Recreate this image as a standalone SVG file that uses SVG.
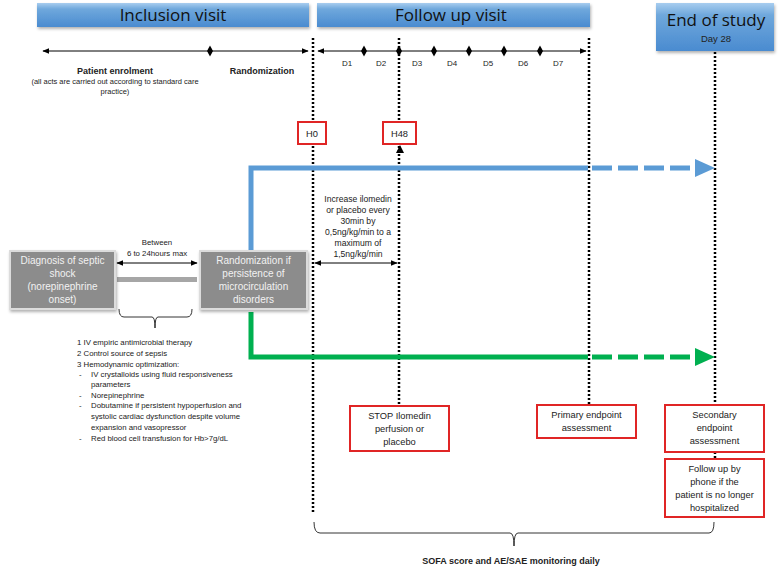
<svg xmlns="http://www.w3.org/2000/svg" width="778" height="567" viewBox="0 0 778 567">
<defs>
<linearGradient id="hg" x1="0" y1="0" x2="0" y2="1">
<stop offset="0" stop-color="#a8cdef"/>
<stop offset="0.25" stop-color="#6fa8dc"/>
<stop offset="1" stop-color="#4a8bd0"/>
</linearGradient>
<filter id="sh" x="-10%" y="-10%" width="120%" height="140%">
<feDropShadow dx="1" dy="2" stdDeviation="1.5" flood-color="#000" flood-opacity="0.3"/>
</filter>
<marker id="ah" viewBox="0 0 10 10" refX="9" refY="5" markerWidth="7" markerHeight="7" orient="auto-start-reverse" markerUnits="userSpaceOnUse">
<path d="M0,1 L10,5 L0,9 z" fill="#000"/>
</marker>
</defs>
<style>
text{font-family:"Liberation Sans",Arial,sans-serif;fill:#222}
.hd{font-family:"Open Sans","Liberation Sans",sans-serif;font-size:17px;fill:#111}
.sm{font-size:7.5px}
.b{font-weight:bold}
.tl{stroke:#000;stroke-width:1}
.dot{stroke:#000;stroke-width:2.5;stroke-dasharray:2 2;fill:none}
.rb{fill:#fff;stroke:#e02525;stroke-width:2}
.gb{fill:#8c8c8c;stroke:#dcdcdc;stroke-width:2}
.gt{fill:#f2f2f2;font-size:10px}
.bt{font-size:9.3px}
</style>
<rect width="778" height="567" fill="#fff"/>

<g id="hdr-inclusion">
<rect x="37" y="3" width="272" height="24" fill="url(#hg)" filter="url(#sh)"/>
<text x="173" y="21" text-anchor="middle" class="hd">Inclusion visit</text>
</g>
<g id="hdr-followup">
<rect x="317" y="3" width="273" height="24" fill="url(#hg)" filter="url(#sh)"/>
<text x="451" y="21" text-anchor="middle" class="hd">Follow up visit</text>
</g>
<g id="hdr-end">
<rect x="656" y="3" width="118" height="48" fill="url(#hg)" filter="url(#sh)"/>
<text x="716" y="26" text-anchor="middle" class="hd">End of study</text>
<text x="716" y="42" text-anchor="middle" font-size="9.5" font-family="Open Sans, Liberation Sans, sans-serif">Day 28</text>
</g>

<g id="connectors">
<line class="dot" x1="313" y1="38" x2="313" y2="512"/>
<line class="dot" x1="399" y1="38" x2="399" y2="122"/>
<line class="dot" x1="399" y1="146" x2="399" y2="405"/>
<line class="dot" x1="589" y1="38" x2="589" y2="405"/>
<line class="dot" x1="715" y1="52" x2="715" y2="405"/>
<line class="dot" x1="715" y1="452" x2="715" y2="459"/>
<line class="tl" x1="43" y1="51" x2="308" y2="51" marker-start="url(#ah)" marker-end="url(#ah)"/>
<path d="M210,45.5 L213,51 L210,56.5 L207,51 z"/>
<line class="tl" x1="318" y1="51" x2="586" y2="51" marker-start="url(#ah)" marker-end="url(#ah)"/>
<g fill="#000">
<path d="M364,45.5 L367,51 L364,56.5 L361,51 z"/>
<path d="M399,45.5 L402,51 L399,56.5 L396,51 z"/>
<path d="M434,45.5 L437,51 L434,56.5 L431,51 z"/>
<path d="M469,45.5 L472,51 L469,56.5 L466,51 z"/>
<path d="M504,45.5 L507,51 L504,56.5 L501,51 z"/>
<path d="M540,45.5 L543,51 L540,56.5 L537,51 z"/>
</g>
<path d="M400,145 L404,153 L396,153 z" fill="#000"/>
<path d="M251,250 L251,168 L588,168" fill="none" stroke="#5b9bd5" stroke-width="5"/>
<line x1="592" y1="168" x2="695" y2="168" stroke="#5b9bd5" stroke-width="5" stroke-dasharray="20 6"/>
<path d="M695,159 L715,168 L695,177 z" fill="#5b9bd5"/>
<path d="M251,312 L251,357 L588,357" fill="none" stroke="#00b050" stroke-width="5"/>
<line x1="592" y1="357" x2="695" y2="357" stroke="#00b050" stroke-width="5" stroke-dasharray="20 6"/>
<path d="M695,348 L715,357 L695,366 z" fill="#00b050"/>
<line class="tl" x1="117" y1="263" x2="197" y2="263" stroke-width="1.3" marker-start="url(#ah)" marker-end="url(#ah)"/>
<rect x="117" y="277" width="80" height="5" fill="#a6a6a6"/>
<path d="M119,309 Q119,317 124,317 L152,317 Q155,317 155,328 Q155,317 158,317 L187,317 Q192,317 192,309" fill="none" stroke="#000" stroke-width="0.8"/>
<line class="tl" x1="315" y1="263" x2="397" y2="263" stroke-width="1.3" marker-start="url(#ah)" marker-end="url(#ah)"/>
<path d="M314,522 Q314,533 320,533 L510,533 Q514,533 514,546 Q514,533 518,533 L709,533 Q714,533 714,522" fill="none" stroke="#000" stroke-width="0.8"/>
</g>

<g id="timeline-labels">
<text x="115" y="74" text-anchor="middle" class="b" font-size="9">Patient enrolment</text>
<text x="115" y="84" text-anchor="middle" class="sm">(all acts are carried out according to standard care</text>
<text x="115" y="94" text-anchor="middle" class="sm">practice)</text>
<text x="262" y="74" text-anchor="middle" class="b" font-size="9">Randomization</text>
<g font-size="8" text-anchor="middle">
<text x="347" y="66">D1</text>
<text x="381" y="66">D2</text>
<text x="417" y="66">D3</text>
<text x="452" y="66">D4</text>
<text x="488" y="66">D5</text>
<text x="523" y="66">D6</text>
<text x="558" y="66">D7</text>
</g>
</g>

<g id="h0">
<rect class="rb" x="298" y="122" width="28" height="22"/>
<text x="312" y="137" text-anchor="middle" class="bt">H0</text>
</g>
<g id="h48">
<rect class="rb" x="383" y="122" width="33" height="22"/>
<text x="399.5" y="137" text-anchor="middle" class="bt">H48</text>
</g>

<g id="increase-text" font-size="8.6" text-anchor="middle">
<text x="358" y="202">Increase ilomedin</text>
<text x="358" y="213">or placebo every</text>
<text x="358" y="224">30min by</text>
<text x="358" y="235">0,5ng/kg/min to a</text>
<text x="358" y="246">maximum of</text>
<text x="358" y="257">1,5ng/kg/min</text>
</g>

<g id="diagnosis">
<rect class="gb" x="10" y="251" width="105" height="58" filter="url(#sh)"/>
<text x="62.5" y="264" text-anchor="middle" class="gt">Diagnosis of septic</text>
<text x="62.5" y="277" text-anchor="middle" class="gt">shock</text>
<text x="62.5" y="290" text-anchor="middle" class="gt">(norepinephrine</text>
<text x="62.5" y="303" text-anchor="middle" class="gt">onset)</text>
</g>
<g id="randomization">
<rect class="gb" x="200" y="251" width="107" height="58" filter="url(#sh)"/>
<text x="253.5" y="264" text-anchor="middle" class="gt">Randomization if</text>
<text x="253.5" y="277" text-anchor="middle" class="gt">persistence of</text>
<text x="253.5" y="290" text-anchor="middle" class="gt">microcirculation</text>
<text x="253.5" y="303" text-anchor="middle" class="gt">disorders</text>
</g>

<g id="between" font-size="7.8" text-anchor="middle">
<text x="157" y="245">Between</text>
<text x="157" y="256">6 to 24hours max</text>
</g>

<g id="care-list" font-size="7.8">
<text x="77" y="345">1 IV empiric antimicrobial therapy</text>
<text x="77" y="356">2 Control source of sepsis</text>
<text x="77" y="367">3 Hemodynamic optimization:</text>
<text x="79" y="377">-</text><text x="91" y="377">IV crystalloids using fluid responsiveness</text>
<text x="91" y="387">parameters</text>
<text x="79" y="398">-</text><text x="91" y="398">Norepinephrine</text>
<text x="79" y="408">-</text><text x="91" y="408">Dobutamine if persistent hypoperfusion and</text>
<text x="91" y="419">systolic cardiac dysfunction despite volume</text>
<text x="91" y="430">expansion and vasopressor</text>
<text x="79" y="441">-</text><text x="91" y="441">Red blood cell transfusion for Hb&gt;7g/dL</text>
</g>

<g id="stop">
<rect class="rb" x="350" y="406" width="99" height="45"/>
<text x="399.5" y="419" text-anchor="middle" class="bt">STOP Ilomedin</text>
<text x="399.5" y="432" text-anchor="middle" class="bt">perfusion or</text>
<text x="399.5" y="445" text-anchor="middle" class="bt">placebo</text>
</g>
<g id="primary">
<rect class="rb" x="537" y="405" width="99" height="33"/>
<text x="586.5" y="418" text-anchor="middle" class="bt">Primary endpoint</text>
<text x="586.5" y="431" text-anchor="middle" class="bt">assessment</text>
</g>
<g id="secondary">
<rect class="rb" x="665" y="405" width="99" height="47"/>
<text x="714.5" y="418" text-anchor="middle" class="bt">Secondary</text>
<text x="714.5" y="431" text-anchor="middle" class="bt">endpoint</text>
<text x="714.5" y="444" text-anchor="middle" class="bt">assessment</text>
</g>
<g id="followup-phone">
<rect class="rb" x="665" y="459" width="99" height="58"/>
<text x="714.5" y="472" text-anchor="middle" class="bt">Follow up by</text>
<text x="714.5" y="485" text-anchor="middle" class="bt">phone  if the</text>
<text x="714.5" y="498" text-anchor="middle" class="bt">patient is no longer</text>
<text x="714.5" y="511" text-anchor="middle" class="bt">hospitalized</text>
</g>

<g id="sofa">
<text x="511" y="564" text-anchor="middle" class="b" font-size="9">SOFA score and AE/SAE monitoring daily</text>
</g>
</svg>
